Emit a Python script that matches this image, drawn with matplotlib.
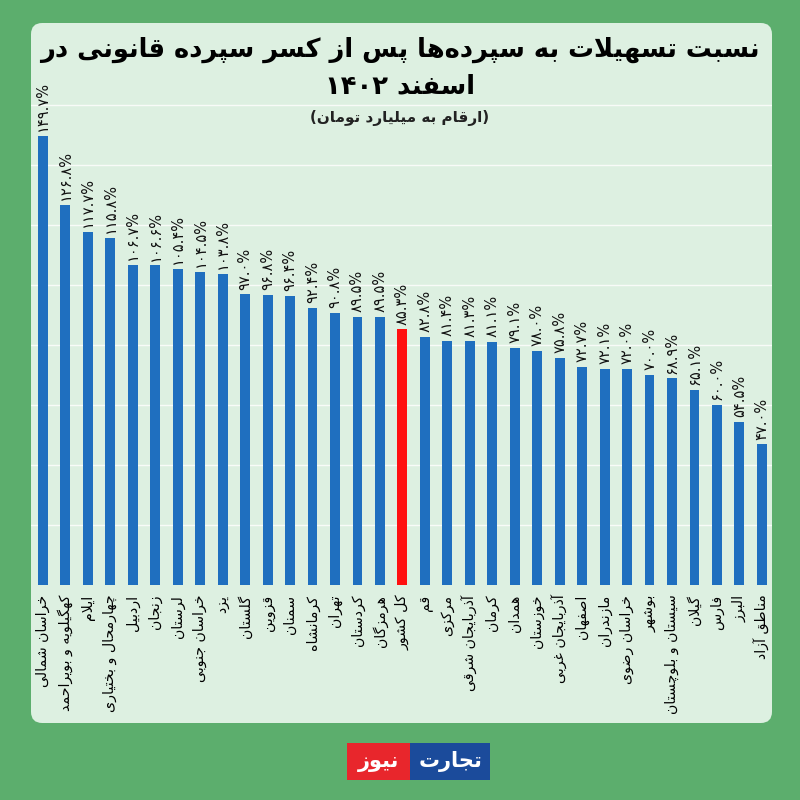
import re

import matplotlib
matplotlib.use('Agg')
import matplotlib.pyplot as plt
from matplotlib.patches import FancyBboxPatch, Rectangle

provinces = [
    'خراسان شمالی', 'کهگیلویه و بویراحمد', 'ایلام', 'چهارمحال و بختیاری',
    'اردبیل', 'زنجان', 'لرستان', 'خراسان جنوبی', 'یزد', 'گلستان', 'قزوین',
    'سمنان', 'کرمانشاه', 'تهران', 'کردستان', 'هرمزگان', 'کل کشور', 'قم',
    'مرکزی', 'آذربایجان شرقی', 'کرمان', 'همدان', 'خوزستان', 'آذربایجان غربی',
    'اصفهان', 'مازندران', 'خراسان رضوی', 'بوشهر', 'سیستان و بلوچستان',
    'گیلان', 'فارس', 'البرز', 'مناطق آزاد',
]
ratios = [
    149.7, 126.8, 117.7, 115.8, 106.7, 106.6, 105.4, 104.5, 103.8, 97.0, 96.8,
    96.4, 92.4, 90.8, 89.5, 89.5, 85.3, 82.8, 81.4, 81.3, 81.1, 79.1, 78.0,
    75.8, 72.7, 72.1, 72.0, 70.0, 68.9, 65.1, 60.0, 54.5, 47.0,
]
highlight = 'کل کشور'
title_lines = ['نسبت تسهیلات به سپرده\u200cها پس از کسر سپرده قانونی در',
               'اسفند ۱۴۰۲']
subtitle = '(ارقام به میلیارد تومان)'
logo_words = ['نیوز', 'تجارت']

# --- minimal Persian shaping + right-to-left reordering ---
# first codepoint of (isolated, final, initial, medial) presentation forms
DUAL = {'ب': 0xFE8F, 'ت': 0xFE95, 'ث': 0xFE99, 'ج': 0xFE9D, 'ح': 0xFEA1,
        'خ': 0xFEA5, 'س': 0xFEB1, 'ش': 0xFEB5, 'ص': 0xFEB9, 'ض': 0xFEBD,
        'ط': 0xFEC1, 'ظ': 0xFEC5, 'ع': 0xFEC9, 'غ': 0xFECD, 'ف': 0xFED1,
        'ق': 0xFED5, 'ل': 0xFEDD, 'م': 0xFEE1, 'ن': 0xFEE5, 'ه': 0xFEE9,
        'ئ': 0xFE89, 'ي': 0xFEF1, 'ك': 0xFED9, 'پ': 0xFB56, 'چ': 0xFB7A,
        'ک': 0xFB8E, 'گ': 0xFB92, 'ی': 0xFBFC}
# (isolated, final) only
RIGHT = {'ا': 0xFE8D, 'آ': 0xFE81, 'أ': 0xFE83, 'إ': 0xFE87, 'د': 0xFEA9,
         'ذ': 0xFEAB, 'ر': 0xFEAD, 'ز': 0xFEAF, 'و': 0xFEED, 'ؤ': 0xFE85,
         'ژ': 0xFB8A, 'ة': 0xFE93}
MIRROR = str.maketrans('()', ')(')


def shape(text):
    out = []
    i = 0
    while i < len(text):
        c = text[i]
        prev = text[i - 1] if i > 0 else ''
        nxt = text[i + 1] if i + 1 < len(text) else ''
        p = int(prev in DUAL)
        if c == 'ل' and nxt in ('ا', 'آ'):
            base = 0xFEFB if nxt == 'ا' else 0xFEF5
            out.append(chr(base + p))
            i += 2
            continue
        if c in DUAL:
            q = int(nxt in DUAL or nxt in RIGHT)
            out.append(chr(DUAL[c] + p + 2 * q))
        elif c in RIGHT:
            out.append(chr(RIGHT[c] + p))
        elif c != '\u200c':
            out.append(c)
        i += 1
    return ''.join(out)


def fa(text):
    runs = re.findall(r'[0-9۰-۹][0-9۰-۹.%]*|[^0-9۰-۹]+', shape(text))
    out = []
    for r in reversed(runs):
        if r[0] in '0123456789۰۱۲۳۴۵۶۷۸۹':
            out.append(r)
        else:
            out.append(r[::-1].translate(MIRROR))
    return ''.join(out)


def fa_num(v):
    return f'{v:.1f}%'.translate(str.maketrans('0123456789', '۰۱۲۳۴۵۶۷۸۹'))


plt.rcParams['font.family'] = ['DejaVu Sans']

bg_green = '#5cae6d'
panel_color = '#ddf0e1'
blue = '#1f6fbf'
red = '#ff1010'

fig = plt.figure(figsize=(8, 8), dpi=100)
fig.patch.set_facecolor(bg_green)

# rounded light panel
panel = FancyBboxPatch((31 / 800, 1 - 723 / 800), 741 / 800, 700 / 800,
                       boxstyle='round,pad=0,rounding_size=0.014',
                       transform=fig.transFigure, facecolor=panel_color,
                       edgecolor='none', zorder=-1)
fig.patches.append(panel)

ax = fig.add_axes([31 / 800, 1 - 585 / 800, 741 / 800, 510 / 800])
ax.set_zorder(1)
ax.set_facecolor('none')

x = range(len(provinces))
colors = [red if p == highlight else blue for p in provinces]
ax.bar(x, ratios, width=0.44, color=colors, zorder=3)

for xi, v in zip(x, ratios):
    ax.text(xi, v + 1.5, fa_num(v), rotation=90, ha='center', va='bottom',
            fontsize=10.5, color='#111111', zorder=4)

ax.set_xlim(-0.53, 32.45)
ax.set_ylim(0, 170)
ax.set_yticks(range(20, 161, 20))
ax.yaxis.grid(True, color='white', linewidth=1.0, alpha=0.8, zorder=1)
ax.set_xticks(list(x))
ax.set_xticklabels([fa(p) for p in provinces], rotation=90, ha='center',
                   va='top', fontsize=10.2)
ax.tick_params(axis='x', length=0, pad=7)
ax.tick_params(axis='y', length=0, labelleft=False)
for s in ax.spines.values():
    s.set_visible(False)

fig.text(0.5, 1 - 50 / 800, fa(title_lines[0]), ha='center', va='center',
         fontsize=18.5, fontweight='bold', color='black', zorder=5)
fig.text(0.5, 1 - 86 / 800, fa(title_lines[1]), ha='center', va='center',
         fontsize=18.5, fontweight='bold', color='black', zorder=5)
fig.text(0.5, 1 - 118 / 800, fa(subtitle), ha='center', va='center',
         fontsize=11, fontweight='bold', color='#222222', zorder=5)

# logo
fig.patches.append(Rectangle((347 / 800, 1 - 780 / 800), 63 / 800, 37 / 800,
                             transform=fig.transFigure, facecolor='#e8262c',
                             edgecolor='none'))
fig.patches.append(Rectangle((410 / 800, 1 - 780 / 800), 80 / 800, 37 / 800,
                             transform=fig.transFigure, facecolor='#1b4b9b',
                             edgecolor='none'))
fig.text(378.5 / 800, 1 - 762 / 800, fa(logo_words[0]), ha='center',
         va='center', fontsize=15, fontweight='bold', color='white')
fig.text(450 / 800, 1 - 762 / 800, fa(logo_words[1]), ha='center',
         va='center', fontsize=15, fontweight='bold', color='white')

fig.savefig('out.png', dpi=100, facecolor=fig.get_facecolor())
